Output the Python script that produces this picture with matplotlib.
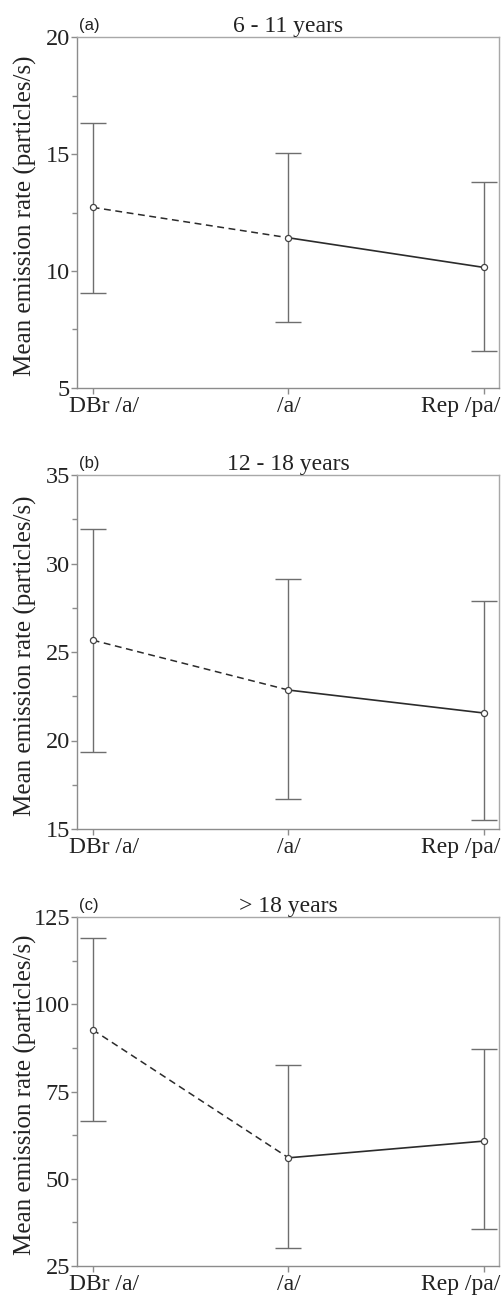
"""
Mean emission rate per speech task, three age groups stacked vertically.
Dashed segment DBr -> /a/, solid segment /a/ -> Rep, error bars on each point.
"""

import matplotlib
matplotlib.use("Agg")

import matplotlib.pyplot as plt
from matplotlib.ticker import MultipleLocator
from matplotlib.transforms import ScaledTranslation

# ---------------------------------------------------------------------------
# Data
# ---------------------------------------------------------------------------
TASKS = ["DBr /a/", "/a/", "Rep /pa/"]

PANEL_TAGS = ["(a)", "(b)", "(c)"]
PANEL_TITLES = ["6 - 11 years", "12 - 18 years", "> 18 years"]

MEAN_A = [12.72, 11.42, 10.15]
UPPER_A = [16.34, 15.06, 13.80]
LOWER_A = [9.06, 7.82, 6.58]

MEAN_B = [25.67, 22.85, 21.55]
UPPER_B = [31.95, 29.10, 27.90]
LOWER_B = [19.35, 16.70, 15.50]

MEAN_C = [92.7, 56.0, 60.8]
UPPER_C = [118.9, 82.6, 87.3]
LOWER_C = [66.6, 30.3, 35.5]

Y_LIMITS = [(5, 20), (15, 35), (25, 125)]
Y_MAJOR = [5, 5, 25]
Y_MINOR = [2.5, 2.5, 12.5]

# ---------------------------------------------------------------------------
# Styling
# ---------------------------------------------------------------------------
SERIF = ["Liberation Serif", "DejaVu Serif"]
SANS = ["Liberation Sans", "DejaVu Sans"]
COLOR_LINE = "#2b2b2b"
COLOR_ERR = "#6e6e6e"
COLOR_SPINE = "#8c8c8c"
COLOR_TEXT = "#222222"
FS = 17

# axes rectangles in pixels: left, top, right, bottom
W, H = 503, 1298
AX_PX = [
    (77, 37, 499, 388),
    (77, 475, 499, 829),
    (77, 917, 499, 1266),
]


def draw_panel(ax, fig, means, upper, lower, ylim, major, minor, tag, title):
    x = list(range(len(TASKS)))
    yerr = [[m - lo for m, lo in zip(means, lower)],
            [up - m for m, up in zip(means, upper)]]

    ax.errorbar(x, means, yerr=yerr, fmt="none", ecolor=COLOR_ERR,
                elinewidth=1.0, capsize=9.5, capthick=1.0, zorder=2)
    ax.plot(x[:2], means[:2], color=COLOR_LINE, lw=1.1,
            linestyle=(0, (4.5, 3)), zorder=3)
    ax.plot(x[1:], means[1:], color=COLOR_LINE, lw=1.2, zorder=3)
    ax.plot(x, means, linestyle="none", marker="o", ms=4.4,
            mfc="white", mec="#444444", mew=0.9, zorder=4)

    ax.set_xlim(-0.08, 2.075)
    ax.set_ylim(*ylim)
    ax.yaxis.set_major_locator(MultipleLocator(major))
    ax.yaxis.set_minor_locator(MultipleLocator(minor))

    ax.set_xticks(x)
    ax.set_xticklabels(TASKS, family=SERIF, fontsize=FS, color=COLOR_TEXT)
    for lab in ax.get_yticklabels():
        lab.set_family(SERIF)
        lab.set_fontsize(FS + 0.5)
        lab.set_color(COLOR_TEXT)

    ax.tick_params(axis="both", which="both", direction="out",
                   color=COLOR_SPINE, width=1.0)
    ax.tick_params(axis="y", which="major", length=4.5, pad=0.5)
    ax.tick_params(axis="y", which="minor", length=3.5)
    ax.tick_params(axis="x", which="major", length=4, pad=2)

    # keep outer labels inside the frame like the original
    dpi = fig.dpi_scale_trans
    labels = ax.get_xticklabels()
    labels[0].set_horizontalalignment("left")
    labels[0].set_transform(labels[0].get_transform()
                            + ScaledTranslation(-24 / 100, 0, dpi))
    labels[-1].set_horizontalalignment("right")
    labels[-1].set_transform(labels[-1].get_transform()
                             + ScaledTranslation(16 / 100, 0, dpi))

    for name, spine in ax.spines.items():
        spine.set_color(COLOR_SPINE if name in ("left", "bottom") else "#a8a8a8")
        spine.set_linewidth(1.0)

    ax.set_ylabel("Mean emission rate (particles/s)", family=SERIF,
                  fontsize=FS + 1, color=COLOR_TEXT)
    ax.yaxis.set_label_coords(-0.095, 0.49)

    ax.set_title(title, family=SERIF, fontsize=FS, pad=3, color=COLOR_TEXT)
    ax.text(0.004, 1.012, tag, transform=ax.transAxes, ha="left",
            va="bottom", family=SANS, fontsize=12, color=COLOR_TEXT)


def main():
    fig = plt.figure(figsize=(W / 100, H / 100), dpi=100)

    series = [
        (MEAN_A, UPPER_A, LOWER_A),
        (MEAN_B, UPPER_B, LOWER_B),
        (MEAN_C, UPPER_C, LOWER_C),
    ]

    for i, (means, upper, lower) in enumerate(series):
        l, t, r, b = AX_PX[i]
        ax = fig.add_axes([l / W, 1 - b / H, (r - l) / W, (b - t) / H])
        draw_panel(ax, fig, means, upper, lower, Y_LIMITS[i], Y_MAJOR[i],
                   Y_MINOR[i], PANEL_TAGS[i], PANEL_TITLES[i])

    fig.savefig("out.png", dpi=100)
    plt.close(fig)


if __name__ == "__main__":
    main()
